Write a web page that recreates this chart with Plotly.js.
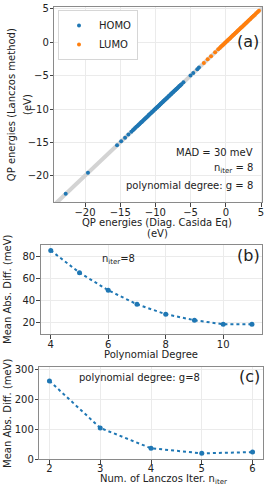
<!DOCTYPE html>
<html>
<head>
<meta charset="utf-8">
<script src="https://cdn.plot.ly/plotly-3.0.1.min.js"></script>
<style>html,body{margin:0;padding:0;background:#fff;}#chart{width:266px;height:486px;}</style>
</head>
<body>
<div id="chart"></div>
<script>
// ---- data (a): QP energies, Casida (x) vs Lanczos (y), eV ----
const homoCasida = [
  -22.74, -19.58, -15.45, -14.86, -14.31, -13.84, -13.42, -13.21, -13.05, -12.88,
  -12.70, -12.55, -12.41, -12.30, -12.16, -12.02, -11.91, -11.78, -11.63, -11.52,
  -11.40, -11.29, -11.17, -11.05, -10.94, -10.86, -10.74, -10.61, -10.52, -10.43,
  -10.31, -10.22, -10.10, -10.01, -9.92, -9.80, -9.71, -9.63, -9.52, -9.44,
  -9.35, -9.24, -9.16, -9.05, -8.96, -8.87, -8.79, -8.68, -8.59, -8.51,
  -8.40, -8.33, -8.21, -8.12, -8.03, -7.94, -7.83, -7.75, -7.64, -7.55,
  -7.46, -7.37, -7.25, -7.16, -7.06, -6.97, -6.86, -6.75, -6.63, -6.52,
  -6.41, -6.30, -6.02, -5.02, -4.63, -4.05, -3.82
];
const homoLanczos = [
  -22.68, -19.55, -15.41, -14.83, -14.29, -13.80, -13.39, -13.19, -13.02, -12.86,
  -12.66, -12.53, -12.38, -12.27, -12.14, -11.98, -11.89, -11.75, -11.61, -11.49,
  -11.37, -11.26, -11.14, -11.03, -10.91, -10.83, -10.71, -10.59, -10.49, -10.40,
  -10.29, -10.19, -10.08, -9.98, -9.90, -9.77, -9.69, -9.61, -9.49, -9.42,
  -9.32, -9.22, -9.13, -9.03, -8.93, -8.85, -8.76, -8.66, -8.56, -8.49,
  -8.37, -8.31, -8.18, -8.10, -8.00, -7.92, -7.80, -7.73, -7.61, -7.53,
  -7.43, -7.35, -7.22, -7.14, -7.03, -6.95, -6.83, -6.73, -6.60, -6.50,
  -6.38, -6.28, -5.99, -4.99, -4.60, -4.02, -3.79
];
const lumoCasida = [
  -3.12, -2.58, -2.10, -1.52, -1.08, -0.86, -0.71, -0.55, -0.42, -0.30,
  -0.18, -0.05, 0.08, 0.19, 0.31, 0.44, 0.56, 0.67, 0.80, 0.92,
  1.05, 1.16, 1.29, 1.41, 1.53, 1.66, 1.78, 1.90, 2.03, 2.15,
  2.28, 2.40, 2.53, 2.66, 2.79, 2.92, 3.06, 3.20, 3.35, 3.49,
  3.64, 3.80, 3.96, 4.13, 4.31, 4.52, 4.70
];
const lumoLanczos = [
  -3.09, -2.55, -2.08, -1.49, -1.05, -0.84, -0.68, -0.53, -0.39, -0.28,
  -0.15, -0.03, 0.11, 0.21, 0.34, 0.46, 0.59, 0.69, 0.83, 0.94,
  1.08, 1.18, 1.32, 1.43, 1.56, 1.68, 1.81, 1.92, 2.06, 2.17,
  2.31, 2.42, 2.56, 2.68, 2.82, 2.94, 3.09, 3.22, 3.38, 3.51,
  3.67, 3.82, 3.99, 4.15, 4.34, 4.54, 4.73
];
const identityRange = [-25, 6];
const ticksA = [-20, -15, -10, -5, 0, 5];

// ---- data (b): MAD vs polynomial degree (n_iter = 8) ----
const polyDegree = [4, 5, 6, 7, 8, 9, 10, 11];
const madDegree = [85.1, 65.1, 49.3, 36.7, 27.8, 22.4, 18.8, 18.8];
const ticksBx = [4, 6, 8, 10];
const ticksBy = [20, 40, 60, 80];

// ---- data (c): MAD vs number of Lanczos iterations (g = 8) ----
const lanczosIter = [2, 3, 4, 5, 6];
const madIter = [261, 104, 36, 19, 23];
const ticksCx = [2, 3, 4, 5, 6];
const ticksCy = [0, 100, 200, 300];

// ---- helpers ----
const W = 266, H = 486;
const px = v => v / W;
const py = v => 1 - v / H;
const BLUE = '#1f77b4', ORANGE = '#ff7f0e';
const FONT = 'DejaVu Sans, Liberation Sans, sans-serif';

const traces = [
  {x: identityRange, y: identityRange, mode: 'lines', line: {color: '#d3d3d3', width: 4},
   xaxis: 'x', yaxis: 'y', showlegend: false, hoverinfo: 'skip'},
  {x: homoCasida, y: homoLanczos, mode: 'markers', name: 'HOMO',
   marker: {color: BLUE, size: 4}, xaxis: 'x', yaxis: 'y'},
  {x: lumoCasida, y: lumoLanczos, mode: 'markers', name: 'LUMO',
   marker: {color: ORANGE, size: 4}, xaxis: 'x', yaxis: 'y'},
  {x: polyDegree, y: madDegree, mode: 'lines+markers', showlegend: false,
   line: {color: BLUE, width: 2, dash: 'dot'}, marker: {color: BLUE, size: 5},
   xaxis: 'x2', yaxis: 'y2'},
  {x: lanczosIter, y: madIter, mode: 'lines+markers', showlegend: false,
   line: {color: BLUE, width: 2, dash: 'dot'}, marker: {color: BLUE, size: 5},
   xaxis: 'x3', yaxis: 'y3'}
];

const axisBase = {
  showline: true, mirror: true, linecolor: '#8a8a8a', linewidth: 1,
  showgrid: true, gridcolor: '#ebebeb', gridwidth: 1, zeroline: false,
  ticks: 'outside', ticklen: 3.5, tickwidth: 1, tickcolor: '#444',
  tickfont: {size: 10, color: '#222', family: FONT}, automargin: false
};
const xBase = Object.assign({}, axisBase, {ticklabelstandoff: -3});
const yBase = Object.assign({}, axisBase, {ticklabelstandoff: -1});

const ann = (text, x, y, opts) => Object.assign({
  text: text, x: px(x), y: py(y), xref: 'paper', yref: 'paper',
  showarrow: false, font: {size: 10, color: '#222', family: FONT},
  xanchor: 'center', yanchor: 'middle'
}, opts || {});

const layout = {
  width: W, height: H,
  margin: {l: 0, r: 0, t: 0, b: 0},
  paper_bgcolor: '#fff', plot_bgcolor: '#fff',
  font: {family: FONT, size: 10, color: '#222'},
  showlegend: true,
  legend: {x: px(58), y: py(10), xanchor: 'left', yanchor: 'top',
           bgcolor: '#fff', bordercolor: '#d6d6d6', borderwidth: 1,
           font: {size: 10, family: FONT, color: '#222'}},
  xaxis: Object.assign({}, xBase, {domain: [px(54.3), px(262.3)], range: [-24.36, 5.18],
           tickvals: ticksA, anchor: 'y'}),
  yaxis: Object.assign({}, yBase, {domain: [py(202.3), py(7.3)], range: [-23.98, 5.25],
           tickvals: ticksA, anchor: 'x'}),
  xaxis2: Object.assign({}, xBase, {domain: [px(40.7), px(262)], range: [3.65, 11.35],
           tickvals: ticksBx, anchor: 'y2'}),
  yaxis2: Object.assign({}, yBase, {domain: [py(334), py(245)], range: [10, 90],
           tickvals: ticksBy, anchor: 'x2'}),
  xaxis3: Object.assign({}, xBase, {domain: [px(39.3), px(262.7)], range: [1.8, 6.2],
           tickvals: ticksCx, anchor: 'y3', ticklabelstandoff: -4}),
  yaxis3: Object.assign({}, yBase, {domain: [py(459.3), py(367.3)], range: [-1, 306.7],
           tickvals: ticksCy, anchor: 'x3'}),
  annotations: [
    // panel (a)
    ann('(a)', 248, 41.7, {font: {size: 16, color: '#222', family: FONT}}),
    ann('MAD = 30 meV', 255, 152.3, {xanchor: 'right'}),
    ann('n<sub>iter</sub> = 8', 255, 168.5, {xanchor: 'right'}),
    ann('polynomial degree: g = 8', 255, 185, {xanchor: 'right'}),
    ann('QP energies (Lanczos method)', 12.2, 105, {textangle: -90}),
    ann('(eV)', 28, 105, {textangle: -90}),
    ann('QP energies (Diag. Casida Eq)', 157, 222.8),
    ann('(eV)', 157, 234),
    // panel (b)
    ann('(b)', 248, 255.7, {font: {size: 16, color: '#222', family: FONT}}),
    ann('n<sub>iter</sub>=8', 100, 259, {xanchor: 'left'}),
    ann('Mean Abs. Diff. (meV)', 7.5, 289.5, {textangle: -90}),
    ann('Polynomial Degree', 151, 354),
    // panel (c)
    ann('(c)', 249, 376.7, {font: {size: 16, color: '#222', family: FONT}}),
    ann('polynomial degree: g=8', 139, 377),
    ann('Mean Abs. Diff. (meV)', 7, 413, {textangle: -90}),
    ann('Num. of Lanczos Iter. n<sub>iter</sub>', 98.3, 479.5, {xanchor: 'left'})
  ]
};

Plotly.newPlot('chart', traces, layout, {staticPlot: true, displayModeBar: false});
</script>
</body>
</html>
